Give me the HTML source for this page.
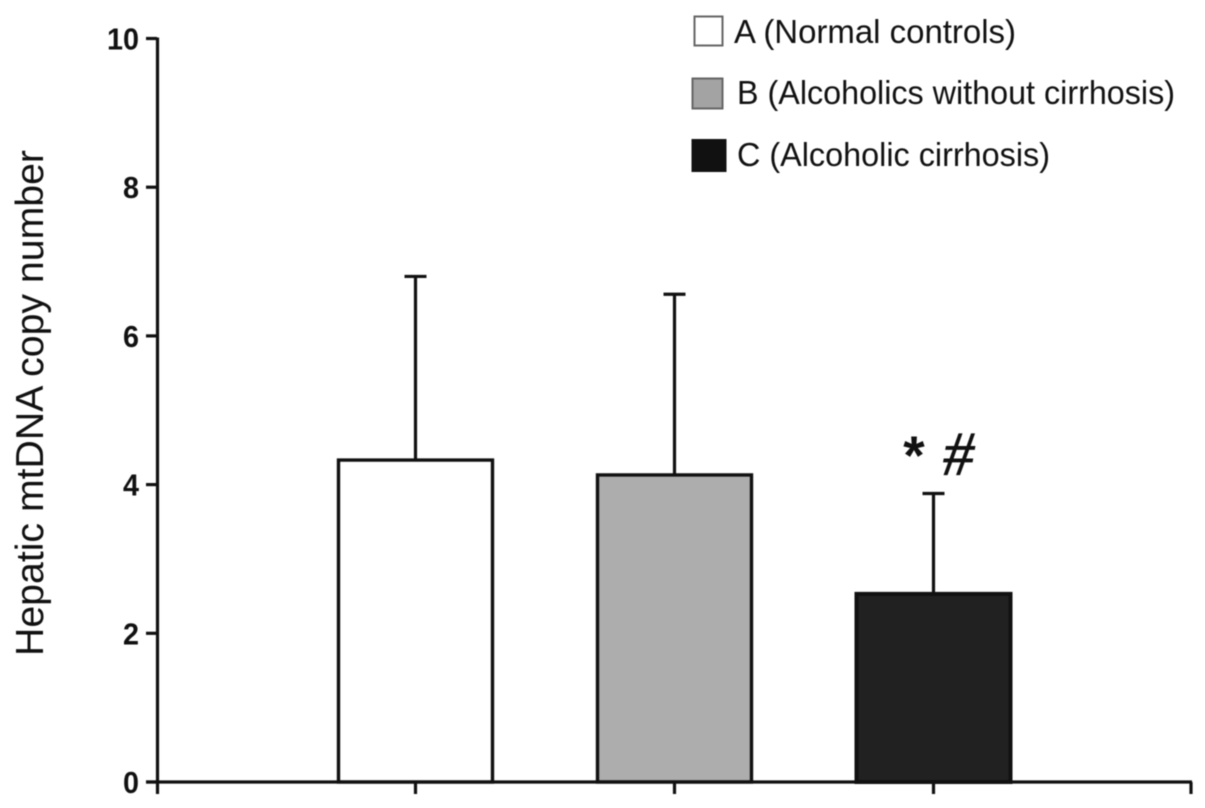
<!DOCTYPE html>
<html lang="en">
<head>
<meta charset="utf-8">
<title>Hepatic mtDNA copy number</title>
<style>
html,body{margin:0;padding:0;background:#fff;}
svg{display:block;}
text{font-family:"Liberation Sans",Arial,sans-serif;fill:#111;}
</style>
</head>
<body>
<svg id="chart" xmlns="http://www.w3.org/2000/svg" width="1205" height="808" viewBox="0 0 1205 808">
<rect x="0" y="0" width="1205" height="808" fill="#fff"/>
<g id="plot" style="filter:blur(0.45px)"></g>
<g style="filter:blur(0.4px)">
<text transform="translate(43,403) rotate(-90)" text-anchor="middle" font-size="39" textLength="506" lengthAdjust="spacingAndGlyphs">Hepatic mtDNA copy number</text>
<g>
<g>
<rect x="694.5" y="16.5" width="28" height="29" fill="#fff" stroke="#666" stroke-width="2"/>
<text x="734" y="43" font-size="33.5" textLength="282" lengthAdjust="spacingAndGlyphs">A (Normal controls)</text>
</g>
<g>
<rect x="692.5" y="78.5" width="30" height="30" fill="#a3a3a3" stroke="#666" stroke-width="2"/>
<text x="737" y="104" font-size="33.5" textLength="438" lengthAdjust="spacingAndGlyphs">B (Alcoholics without cirrhosis)</text>
</g>
<g>
<rect x="691.5" y="139" width="35" height="33" fill="#111"/>
<text x="737" y="166" font-size="33.5" textLength="313" lengthAdjust="spacingAndGlyphs">C (Alcoholic cirrhosis)</text>
</g>
</g>
<text x="914" y="474" text-anchor="middle" font-size="55" font-weight="bold">*</text>
<text x="958.5" y="475" text-anchor="middle" font-size="62" font-style="italic" stroke="#111" stroke-width="0.8" style="font-family:'Liberation Serif',serif">#</text>
</g>
</svg>
<script>
const categories = ['A', 'B', 'C'];
const barValues = [4.33, 4.13, 2.53];
const errorTops = [6.80, 6.56, 3.88];
const barFills = ['#ffffff', '#adadad', '#212121'];
const yTicks = [0, 2, 4, 6, 8, 10];

function yScale(v) { return 782 - v * 74.35; }
function bandCenter(i) { return 415.5 + i * 259; }

const plot = document.getElementById('plot');
const NS = 'http://www.w3.org/2000/svg';

function addLine(parent, x1, y1, x2, y2, w, name) {
  const l = document.createElementNS(NS, 'line');
  l.setAttribute('x1', x1);
  l.setAttribute('y1', y1);
  l.setAttribute('x2', x2);
  l.setAttribute('y2', y2);
  l.setAttribute('stroke', '#111');
  l.setAttribute('stroke-width', w);
  
  
  parent.appendChild(l);
}

categories.forEach(function (c, i) {
  const cx = bandCenter(i);
  const top = yScale(barValues[i]);
  const errTop = yScale(errorTops[i]);
  addLine(plot, cx, top, cx, errTop, 3.2, 'error-bar-' + c.toLowerCase());
  addLine(plot, cx - 11, errTop, cx + 11, errTop, 3.2, 'error-cap-' + c.toLowerCase());
  const r = document.createElementNS(NS, 'rect');
  r.setAttribute('x', cx - 77);
  r.setAttribute('y', top);
  r.setAttribute('width', 154);
  r.setAttribute('height', yScale(0) - top);
  r.setAttribute('fill', barFills[i]);
  r.setAttribute('stroke', '#111');
  r.setAttribute('stroke-width', i === 2 ? 4 : 3.4);
  
  
  plot.appendChild(r);
});

addLine(plot, 157.5, yScale(10) - 1, 157.5, 794, 3.2, 'y-axis-line');
addLine(plot, 146, yScale(0), 1192, yScale(0), 3.2, 'x-axis-line');

yTicks.forEach(function (t) {
  const y = yScale(t);
  addLine(plot, 146, y, 157, y, 3.2, 'y-tick-' + t);
  const s = document.createElementNS(NS, 'text');
  s.setAttribute('x', 139);
  s.setAttribute('y', y + 11);
  s.setAttribute('text-anchor', 'end');
  s.setAttribute('font-size', 31);
  s.setAttribute('font-weight', 'bold');
  s.setAttribute('textLength', String(t).length * 16);
  s.setAttribute('lengthAdjust', 'spacingAndGlyphs');
  
  
  s.textContent = t;
  plot.appendChild(s);
});

categories.forEach(function (c, i) {
  addLine(plot, bandCenter(i), 782, bandCenter(i), 794, 3.2, 'x-tick-' + c.toLowerCase());
});
addLine(plot, 1191, 782, 1191, 794, 3.2, 'x-tick-end');
</script>
</body>
</html>
